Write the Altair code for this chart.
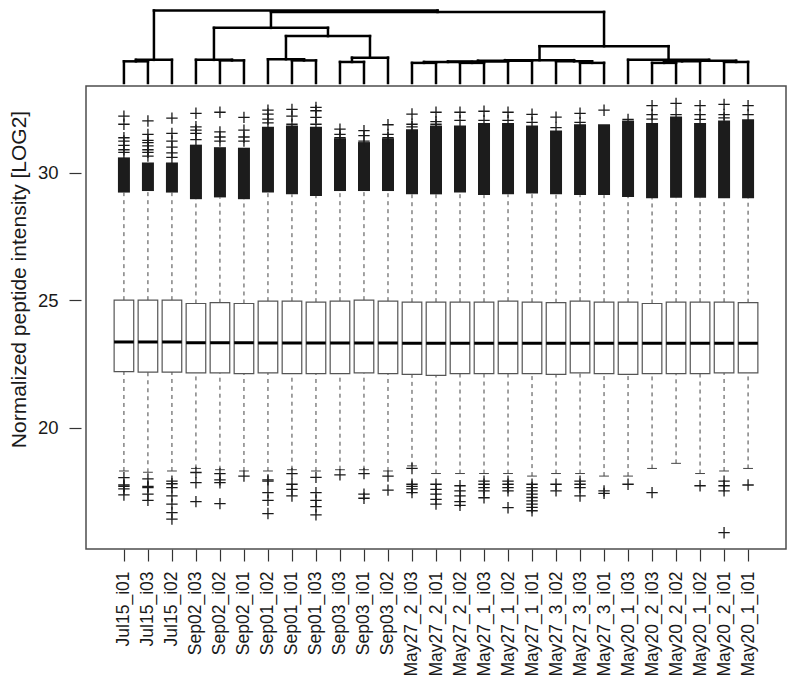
import json
import altair as alt
import pandas as pd

# ---------------- data ----------------
names = ["Jul15_i01", "Jul15_i03", "Jul15_i02", "Sep02_i03", "Sep02_i02", "Sep02_i01",
         "Sep01_i02", "Sep01_i01", "Sep01_i03", "Sep03_i03", "Sep03_i01", "Sep03_i02",
         "May27_2_i03", "May27_2_i01", "May27_2_i02", "May27_1_i03", "May27_1_i02",
         "May27_1_i01", "May27_3_i02", "May27_3_i03", "May27_3_i01", "May20_1_i03",
         "May20_2_i03", "May20_2_i02", "May20_1_i02", "May20_2_i01", "May20_1_i01"]

q1 = [22.20, 22.18, 22.18, 22.15, 22.15, 22.12, 22.15, 22.12, 22.12, 22.12, 22.15, 22.12,
      22.09, 22.05, 22.12, 22.12, 22.12, 22.12, 22.09, 22.15, 22.12, 22.09, 22.12, 22.12,
      22.12, 22.15, 22.15]
median = [23.36, 23.36, 23.36, 23.33, 23.33, 23.33, 23.32, 23.32, 23.32, 23.32, 23.32, 23.32,
          23.31, 23.31, 23.31, 23.31, 23.31, 23.31, 23.31, 23.31, 23.31, 23.31, 23.31, 23.31,
          23.31, 23.31, 23.31]
q3 = [25.00, 25.00, 25.00, 24.87, 24.90, 24.87, 24.96, 24.96, 24.92, 24.96, 25.00, 24.96,
      24.92, 24.92, 24.92, 24.92, 24.96, 24.92, 24.90, 24.96, 24.92, 24.92, 24.87, 24.92,
      24.92, 24.92, 24.90]
whisker_low = [18.30, 18.25, 18.30, 18.40, 18.35, 18.30, 18.30, 18.35, 18.30, 18.35, 18.35, 18.30,
               18.50, 18.20, 18.20, 18.20, 18.20, 18.10, 18.20, 18.20, 18.10, 18.10, 18.40, 18.60,
               18.20, 18.30, 18.40]
whisker_high = [29.22, 29.28, 29.22, 28.96, 29.03, 28.96, 29.22, 29.15, 29.09, 29.28, 29.28, 29.28,
                29.15, 29.15, 29.22, 29.12, 29.15, 29.18, 29.15, 29.12, 29.12, 29.05, 29.00, 29.02,
                29.02, 29.00, 29.00]
# top of the dense cloud of upper outliers
dense_top = [30.60, 30.40, 30.40, 31.10, 31.00, 30.98, 31.80, 31.85, 31.80, 31.35, 31.20, 31.35,
             31.70, 31.85, 31.85, 31.95, 31.95, 31.85, 31.65, 31.90, 31.90, 32.05, 31.95, 32.20,
             31.95, 32.05, 32.10]
# individual outliers above the dense cloud
upper_outliers = [
    [32.22, 31.90, 31.37, 31.24, 31.07, 30.90, 30.80],
    [32.03, 31.50, 31.27, 31.18, 31.05, 30.90, 30.80, 30.65],
    [32.14, 31.54, 31.24, 31.00, 30.78, 30.60],
    [32.33, 31.80, 31.67, 31.54, 31.30],
    [32.37, 31.60, 31.40, 31.24],
    [32.17, 31.67, 31.40, 31.24],
    [32.45, 32.30, 32.10, 31.95],
    [32.48, 32.22, 31.90],
    [32.56, 32.43, 32.17, 31.90],
    [31.71, 31.50, 31.37],
    [31.65, 31.45, 31.24],
    [31.88, 31.50, 31.37],
    [32.30, 31.90, 31.80],
    [32.37, 32.00, 31.90],
    [32.37, 32.05],
    [32.41, 32.05],
    [32.37, 32.05],
    [32.29, 31.97],
    [32.18, 31.77],
    [32.33, 31.97],
    [32.45],
    [32.09],
    [32.63, 32.28, 32.10],
    [32.72, 32.28],
    [32.63, 32.28, 32.09],
    [32.68, 32.28, 32.15],
    [32.63, 32.28],
]
lower_outliers = [
    [18.04, 17.75, 17.70, 17.60, 17.36],
    [17.99, 17.70, 17.65, 17.39, 17.15],
    [17.90, 17.80, 17.65, 17.32, 17.00, 16.67, 16.41],
    [18.24, 17.84, 17.10],
    [18.20, 17.95, 17.84, 17.02],
    [18.10],
    [17.95, 17.90, 17.45, 17.15, 16.63],
    [18.20, 17.78, 17.58, 17.32],
    [18.05, 17.45, 17.15, 16.90, 16.58],
    [18.15],
    [18.20, 17.39, 17.23],
    [18.10, 17.55],
    [18.40, 17.78, 17.70, 17.60, 17.45],
    [17.78, 17.58, 17.39, 17.19, 17.00],
    [17.72, 17.52, 17.32, 17.10, 16.95],
    [17.90, 17.78, 17.65, 17.52, 17.25],
    [17.90, 17.78, 17.65, 17.52, 16.86],
    [17.78, 17.65, 17.52, 17.39, 17.26, 17.13, 17.00, 16.87, 16.74],
    [17.78, 17.52],
    [17.90, 17.78, 17.65, 17.32],
    [17.52, 17.42],
    [17.78],
    [17.45],
    [],
    [17.72],
    [17.90, 17.72, 17.52, 15.88],
    [17.75],
]

# dendrogram (hclust-style merges: negative = leaf position, positive = earlier merge)
merge_left = [-1, 1, -5, -4, -8, -7, -10, 7, 6, 4, -13, -15, 11, 13, 14, -20, -19, 15,
              -23, 19, -26, 20, -22, 18, 10, 2]
merge_right = [-2, -3, -6, 3, -9, 5, -11, -12, 8, 9, -14, -16, 12, -17, -18, -21, 16, 17,
               -24, -25, -27, 21, 22, 23, 24, 25]
merge_height = [23.7, 25.3, 24.7, 25.3, 24.7, 26.0, 23.0, 27.7, 51.3, 60.3, 22.0, 22.0,
                23.0, 23.5, 24.3, 22.0, 23.7, 25.0, 22.0, 23.7, 23.0, 24.3, 25.3, 40.3,
                77.7, 79.3]

# ---------------- layout constants ----------------
W, H = 710, 540
XMIN, XMAX = -0.58, 28.58
YMIN, YMAX = 15.24, 36.42
FRAME_TOP = 33.4
# dendrogram height scale: leaves at 74px below top, root at 1.5px below top
D_LEAF_PX, D_ROOT_PX = 74.0, 1.5
_k = (D_LEAF_PX - D_ROOT_PX) / max(merge_height)
_D = H / _k
D1 = D_LEAF_PX / H * _D
D0 = D1 - _D

FONT = "Liberation Sans"
TXT = "#1a1a1a"

# ---------------- tables ----------------
idx = list(range(1, len(names) + 1))
boxes = pd.DataFrame({"idx": idx, "name": names, "q1": q1, "med": median, "q3": q3,
                      "wlo": whisker_low, "whi": whisker_high, "dtop": dense_top})
out_rows = []
for i, vals in zip(idx, upper_outliers):
    out_rows += [{"idx": i, "v": v} for v in vals]
for i, vals in zip(idx, lower_outliers):
    out_rows += [{"idx": i, "v": v} for v in vals]
outliers = pd.DataFrame(out_rows)

# dendrogram segments
pos, hgt = {}, {}
def _xh(c):
    return (float(-c), 0.0) if c < 0 else (pos[c], hgt[c])
segs = []
for m, (a, b, h) in enumerate(zip(merge_left, merge_right, merge_height), start=1):
    xa, ha = _xh(a)
    xb, hb = _xh(b)
    segs.append({"x": xa, "x2": xa, "y": ha, "y2": h})
    segs.append({"x": xb, "x2": xb, "y": hb, "y2": h})
    segs.append({"x": xa, "x2": xb, "y": h, "y2": h})
    pos[m], hgt[m] = (xa + xb) / 2, h
dendro = pd.DataFrame(segs)

frame_df = pd.DataFrame({"x": [XMIN], "x2": [XMAX], "y": [YMIN], "y2": [FRAME_TOP]})

# ---------------- scales / axes ----------------
xs = alt.Scale(domain=[XMIN, XMAX], nice=False, zero=False)
ys = alt.Scale(domain=[YMIN, YMAX], nice=False, zero=False)
ds = alt.Scale(domain=[D0, D1], nice=False, zero=False)

label_expr = json.dumps(names) + "[datum.value - 1]"
xaxis = alt.Axis(values=idx, labelExpr=label_expr, labelAngle=270, labelAlign="right",
                 labelBaseline="middle", labelFontSize=17.5, labelFont=FONT, labelColor=TXT,
                 labelPadding=10, tickSize=12, tickColor="#333", tickWidth=1.2,
                 domain=False, grid=False, title=None, labelOverlap=False, labelFlush=False)
yaxis = alt.Axis(values=[20, 25, 30], labelFontSize=18.5, labelFont=FONT, labelColor=TXT,
                 labelPadding=11, tickSize=12, tickColor="#333", tickWidth=1.2,
                 domain=False, grid=False, title="Normalized peptide intensity [LOG2]",
                 titleFont=FONT, titleFontSize=21, titleFontWeight="normal", titleColor=TXT,
                 titlePadding=8)

X = lambda f: alt.X(f, scale=xs, axis=xaxis)

frame = alt.Chart(frame_df).mark_rect(fillOpacity=0, stroke="#4d4d4d", strokeWidth=1.5).encode(
    x=X("x:Q"), x2="x2:Q",
    y=alt.Y("y:Q", scale=ys, axis=yaxis), y2="y2:Q")

base = alt.Chart(boxes)
whisk_hi = base.mark_rule(color="#444", strokeWidth=1, strokeDash=[4, 4]).encode(
    x=X("idx:Q"), y=alt.Y("q3:Q", scale=ys, axis=None), y2="whi:Q")
whisk_lo = base.mark_rule(color="#444", strokeWidth=1, strokeDash=[4, 4]).encode(
    x=X("idx:Q"), y=alt.Y("wlo:Q", scale=ys, axis=None), y2="q1:Q")
staple_lo = base.mark_tick(orient="horizontal", size=9.8, thickness=1, color="#444", opacity=1).encode(
    x=X("idx:Q"), y=alt.Y("wlo:Q", scale=ys, axis=None))
dense = base.mark_bar(size=12, color="#1c1c1c", opacity=1).encode(
    x=X("idx:Q"), y=alt.Y("whi:Q", scale=ys, axis=None), y2="dtop:Q")
pluses = alt.Chart(outliers).mark_point(shape="M-1,0L1,0M0,-1L0,1", size=130, filled=False,
                                        stroke="#1a1a1a", strokeWidth=1.3, opacity=1).encode(
    x=X("idx:Q"), y=alt.Y("v:Q", scale=ys, axis=None))
box = base.mark_bar(size=19.6, fill="white", stroke="#555", strokeWidth=1.2, opacity=1).encode(
    x=X("idx:Q"), y=alt.Y("q1:Q", scale=ys, axis=None), y2="q3:Q")
med = base.mark_tick(orient="horizontal", size=19.6, thickness=3, color="black", opacity=1).encode(
    x=X("idx:Q"), y=alt.Y("med:Q", scale=ys, axis=None))

tree = alt.Chart(dendro).mark_rule(color="black", strokeWidth=2.5, strokeCap="square").encode(
    x=X("x:Q"), x2="x2:Q",
    y=alt.Y("y:Q", scale=ds, axis=None), y2="y2:Q")

chart = alt.layer(frame, whisk_hi, whisk_lo, staple_lo, dense, pluses, box, med, tree).resolve_scale(
    y="independent").properties(width=W, height=H, padding=0).configure_view(strokeWidth=0)

chart.save("out.html", embed_options={"renderer": "svg", "actions": False})
